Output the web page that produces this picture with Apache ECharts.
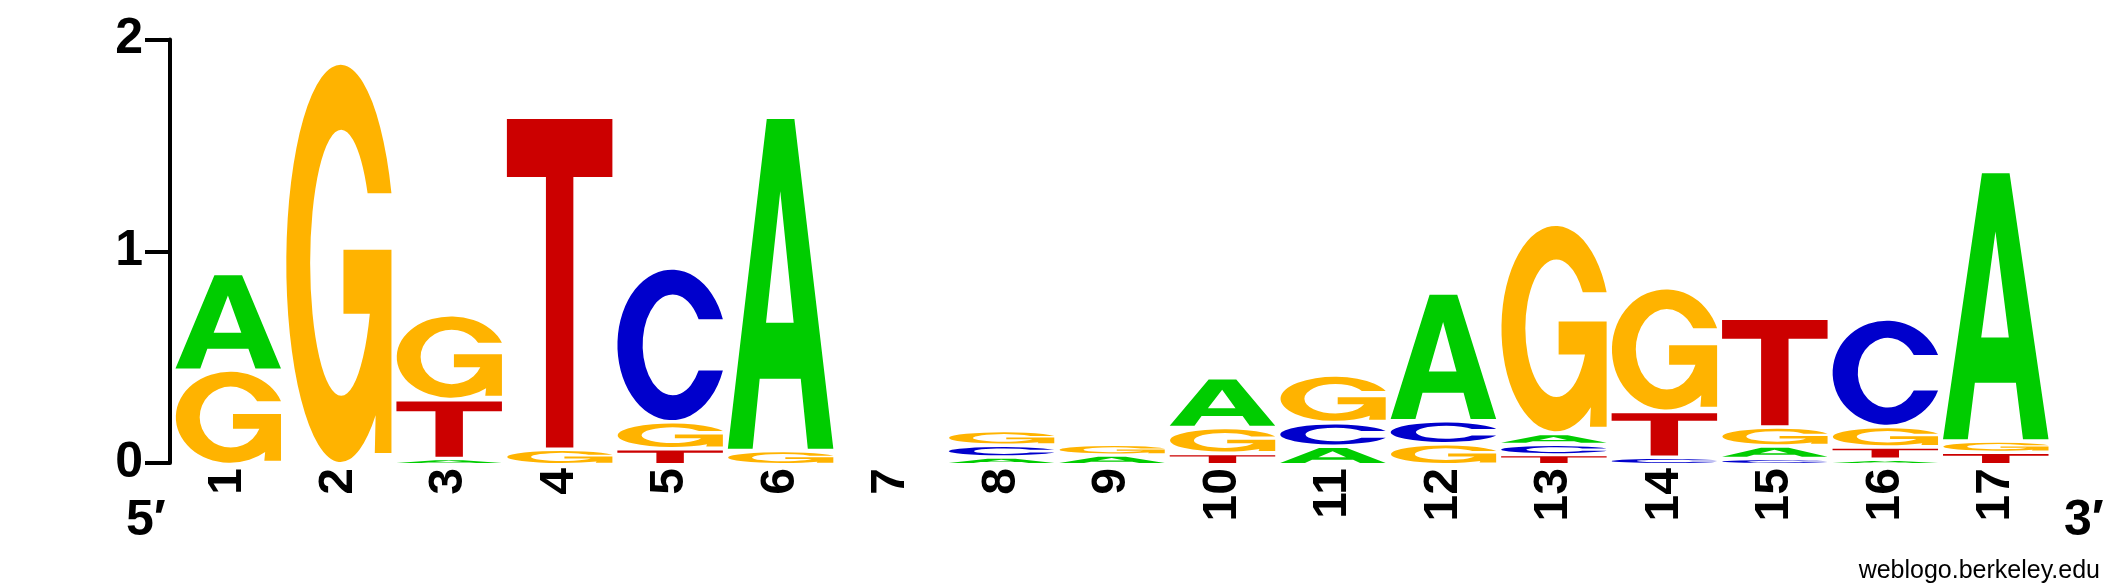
<!DOCTYPE html>
<html>
<head>
<meta charset="UTF-8">
<title>Sequence logo</title>
<script src="https://cdn.jsdelivr.net/npm/echarts@6/dist/echarts.min.js"></script>
<style>
  html, body { margin: 0; padding: 0; background: #fff; }
  #main { width: 2125px; height: 588px; }
</style>
</head>
<body>
<div id="main"></div>
<script>
// positions along the site
var positions = ['1','2','3','4','5','6','7','8','9','10','11','12','13','14','15','16','17'];
// information (bits) carried by each base at each position
var bitsA = [0.457, 0, 0.013, 0,     0,     1.574, 0, 0.020, 0.030, 0.235, 0.071, 0.603, 0.051, 0,     0.059, 0.010, 1.272];
var bitsC = [0,     0, 0,     0,     0.727, 0,     0, 0.055, 0,     0,     0.111, 0.108, 0.048, 0.019, 0.013, 0.508, 0];
var bitsG = [0.430, 1.876, 0.400, 0.057, 0.127, 0.051, 0, 0.070, 0.050, 0.122, 0.225, 0.083, 0.986, 0.583, 0.090, 0.097, 0.054];
var bitsT = [0,     0, 0.278, 1.568, 0.059, 0,     0, 0,     0,     0.037, 0,     0,     0.032, 0.216, 0.513, 0.057, 0.042];
var yTicks = [0, 1, 2];

var letters = ['A', 'C', 'G', 'T'];
var letterColors = ['#00CC00', '#0000CC', '#FFB300', '#CC0000'];

// glyph outlines in a 100 x 100 box
var glyphs = [
  'M0,100 L36.9,0 L63.1,0 L100,100 L75.8,100 L69.1,78.8 L30.2,78.8 L23.5,100 Z M49.7,21.9 L36.2,61.8 L62.4,61.8 Z',
  'M100,33 A51.5,50 0 1 0 100,67 L77,67 A28.5,33.5 0 1 1 77,33 Z',
  'M100,32.1 A51.5,50 0 1 0 85,88 L84.2,97.5 L100,97.5 L100,46.3 L54.5,46.3 L54.5,62.4 L79.5,62.4 A29.4,33.5 0 1 1 77.4,32.1 Z',
  'M0,0 L100,0 L100,17.7 L63,17.7 L63,100 L37,100 L37,17.7 L0,17.7 Z'
];

// build the stacks: smallest letter at the bottom
// item: [position index, bottom, top, letter index, stacked on another letter?]
var stackData = [];
var all = [bitsA, bitsC, bitsG, bitsT];
for (var i = 0; i < positions.length; i++) {
  var col = [];
  for (var k = 0; k < 4; k++) {
    if (all[k][i] > 0) col.push({ k: k, v: all[k][i] });
  }
  col.sort(function (a, b) { return a.v - b.v; });
  var base = 0;
  for (var j = 0; j < col.length; j++) {
    stackData.push([i, base, base + col[j].v, col[j].k, j > 0 ? 1 : 0]);
    base += col[j].v;
  }
}

function renderLetter(params, api) {
  var x = api.value(0);
  var k = api.value(3);
  var pb = api.coord([x, api.value(1)]);
  var pt = api.coord([x, api.value(2)]);
  var bw = api.size([1, 0])[0] * 0.955;
  var h = pb[1] - pt[1];
  var gap = api.value(4) ? Math.min(3.5, h * 0.3) : 0;
  var gh = h - gap;
  if (gh <= 0.2) return;
  return {
    type: 'path',
    x: pb[0] - bw / 2,
    y: pt[1],
    scaleX: bw / 100,
    scaleY: gh / 100,
    shape: { pathData: glyphs[k] },
    style: { fill: letterColors[k] }
  };
}

var myChart = echarts.init(document.getElementById('main'));
var font = '"Liberation Sans", Arial, Helvetica, sans-serif';

var option = {
  animation: false,
  backgroundColor: '#ffffff',
  grid: { left: 173, right: 74, top: 39.5, bottom: 125 },
  xAxis: {
    type: 'category',
    data: positions,
    axisLine: { show: false },
    axisTick: { show: false },
    splitLine: { show: false },
    axisLabel: {
      rotate: 90,
      margin: 5,
      color: '#000',
      fontSize: 48,
      fontWeight: 'bold',
      fontFamily: font,
      interval: 0
    }
  },
  yAxis: {
    type: 'value',
    min: yTicks[0],
    max: yTicks[yTicks.length - 1],
    interval: 1,
    offset: 3,
    axisLine: { show: true, lineStyle: { color: '#000', width: 4 } },
    axisTick: { show: true, length: 25, lineStyle: { color: '#000', width: 4 } },
    splitLine: { show: false },
    axisLabel: {
      margin: 27,
      color: '#000',
      fontSize: 50,
      fontWeight: 'bold',
      fontFamily: font
    }
  },
  series: [{
    type: 'custom',
    renderItem: renderLetter,
    encode: { x: 0, y: [1, 2] },
    data: stackData,
    clip: false
  }],
  graphic: [
    { type: 'text', x: 126, y: 521, style: { text: '5\u2032', fontSize: 50, fontWeight: 'bold', fontFamily: font, fill: '#000', textAlign: 'left', textVerticalAlign: 'middle' } },
    { type: 'text', x: 2064, y: 521, style: { text: '3\u2032', fontSize: 50, fontWeight: 'bold', fontFamily: font, fill: '#000', textAlign: 'left', textVerticalAlign: 'middle' } },
    { type: 'text', x: 2100, y: 571, style: { text: 'weblogo.berkeley.edu', fontSize: 25, fontFamily: font, fill: '#000', textAlign: 'right', textVerticalAlign: 'middle' } }
  ]
};

myChart.setOption(option);
</script>
</body>
</html>
